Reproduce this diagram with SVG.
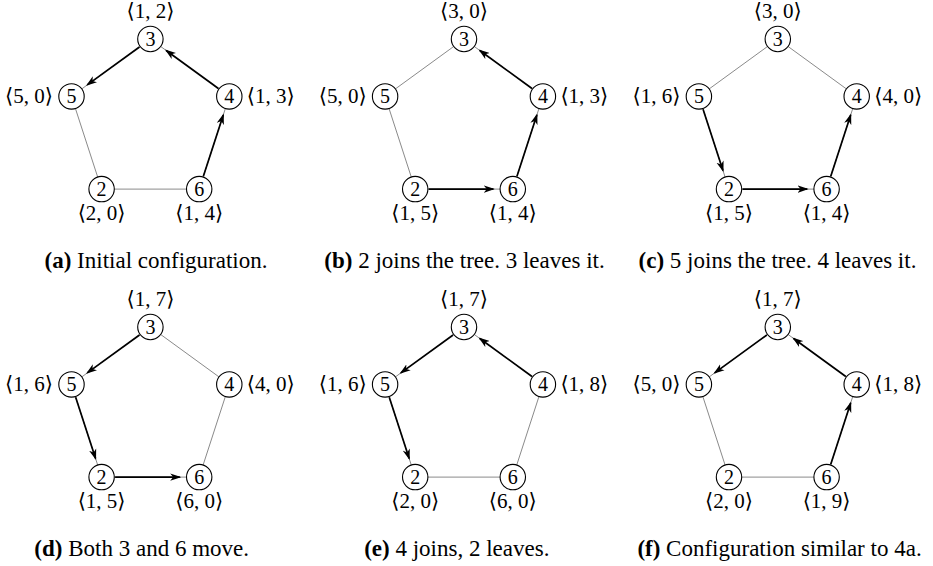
<svg xmlns="http://www.w3.org/2000/svg" width="933" height="566" viewBox="0 0 933 566" font-family="'Liberation Serif', 'Times New Roman', 'DejaVu Serif', serif">
<style>
text{fill:#000}
.lbl{font-size:21px}
.num{font-size:20px;text-anchor:middle}
.mid{text-anchor:middle}
.end{text-anchor:end}
.cap{font-size:23px;text-anchor:middle}
circle{fill:#fff;stroke:#000;stroke-width:1.1}
.g{stroke:#8a8a8a;stroke-width:1;fill:none}
.t{stroke:#000;stroke-width:1.7;fill:none;marker-end:url(#arr)}
</style>
<defs>
<marker id="arr" viewBox="0 0 11 8" refX="9.5" refY="4" markerWidth="11" markerHeight="8" markerUnits="userSpaceOnUse" orient="auto">
<path d="M0,0.3 L11,4 L0,7.7 L3,4 Z" fill="#000"/>
</marker>
<g id="gray35"><line class="g" x1="-10.27" y1="-75.53" x2="-68.63" y2="-33.07"/></g>
<g id="gray34"><line class="g" x1="10.27" y1="-75.53" x2="68.63" y2="-33.07"/></g>
<g id="gray52"><line class="g" x1="-74.98" y1="-13.53" x2="-52.72" y2="55.03"/></g>
<g id="gray46"><line class="g" x1="74.98" y1="-13.53" x2="52.72" y2="55.03"/></g>
<g id="gray26"><line class="g" x1="-36.1" y1="67.1" x2="36.1" y2="67.1"/></g>
</defs>

<!-- Panel a -->
<g id="panel-a" transform="translate(150.4,122)">
<g id="a-edges">
<use href="#gray35"/><use href="#gray34"/><use href="#gray52"/><use href="#gray46"/><use href="#gray26"/>
<line class="t" x1="-10.92" y1="-75.06" x2="-63.13" y2="-37.07"/>
<line class="t" x1="67.98" y1="-33.54" x2="15.77" y2="-71.53"/>
<line class="t" x1="52.96" y1="54.27" x2="72.88" y2="-7.07"/>
</g>
<g id="a-n3"><circle cx="0" cy="-83" r="12.7"/><text class="num" x="0" y="-76.3">3</text><text class="lbl mid" x="0" y="-104.5">⟨1, 2⟩</text></g>
<g id="a-n5"><circle cx="-78.9" cy="-25.6" r="12.7"/><text class="num" x="-78.9" y="-18.9">5</text><text class="lbl end" x="-97.4" y="-18.6">⟨5, 0⟩</text></g>
<g id="a-n4"><circle cx="78.9" cy="-25.6" r="12.7"/><text class="num" x="78.9" y="-18.9">4</text><text class="lbl" x="96.4" y="-18.6">⟨1, 3⟩</text></g>
<g id="a-n2"><circle cx="-48.8" cy="67.1" r="12.7"/><text class="num" x="-48.8" y="73.8">2</text><text class="lbl mid" x="-48.8" y="98.1">⟨2, 0⟩</text></g>
<g id="a-n6"><circle cx="48.8" cy="67.1" r="12.7"/><text class="num" x="48.8" y="73.8">6</text><text class="lbl mid" x="48.8" y="98.1">⟨1, 4⟩</text></g>
</g>

<!-- Panel b -->
<g id="panel-b" transform="translate(464,122)">
<g id="b-edges">
<use href="#gray35"/><use href="#gray34"/><use href="#gray52"/><use href="#gray46"/><use href="#gray26"/>
<line class="t" x1="67.98" y1="-33.54" x2="15.77" y2="-71.53"/>
<line class="t" x1="52.96" y1="54.27" x2="72.88" y2="-7.07"/>
<line class="t" x1="-35.3" y1="67.1" x2="29.3" y2="67.1"/>
</g>
<g id="b-n3"><circle cx="0" cy="-83" r="12.7"/><text class="num" x="0" y="-76.3">3</text><text class="lbl mid" x="0" y="-104.5">⟨3, 0⟩</text></g>
<g id="b-n5"><circle cx="-78.9" cy="-25.6" r="12.7"/><text class="num" x="-78.9" y="-18.9">5</text><text class="lbl end" x="-97.4" y="-18.6">⟨5, 0⟩</text></g>
<g id="b-n4"><circle cx="78.9" cy="-25.6" r="12.7"/><text class="num" x="78.9" y="-18.9">4</text><text class="lbl" x="96.4" y="-18.6">⟨1, 3⟩</text></g>
<g id="b-n2"><circle cx="-48.8" cy="67.1" r="12.7"/><text class="num" x="-48.8" y="73.8">2</text><text class="lbl mid" x="-48.8" y="98.1">⟨1, 5⟩</text></g>
<g id="b-n6"><circle cx="48.8" cy="67.1" r="12.7"/><text class="num" x="48.8" y="73.8">6</text><text class="lbl mid" x="48.8" y="98.1">⟨1, 4⟩</text></g>
</g>

<!-- Panel c -->
<g id="panel-c" transform="translate(777.8,122)">
<g id="c-edges">
<use href="#gray35"/><use href="#gray34"/><use href="#gray52"/><use href="#gray46"/><use href="#gray26"/>
<line class="t" x1="-74.74" y1="-12.77" x2="-54.82" y2="48.57"/>
<line class="t" x1="-35.3" y1="67.1" x2="29.3" y2="67.1"/>
<line class="t" x1="52.96" y1="54.27" x2="72.88" y2="-7.07"/>
</g>
<g id="c-n3"><circle cx="0" cy="-83" r="12.7"/><text class="num" x="0" y="-76.3">3</text><text class="lbl mid" x="0" y="-104.5">⟨3, 0⟩</text></g>
<g id="c-n5"><circle cx="-78.9" cy="-25.6" r="12.7"/><text class="num" x="-78.9" y="-18.9">5</text><text class="lbl end" x="-97.4" y="-18.6">⟨1, 6⟩</text></g>
<g id="c-n4"><circle cx="78.9" cy="-25.6" r="12.7"/><text class="num" x="78.9" y="-18.9">4</text><text class="lbl" x="96.4" y="-18.6">⟨4, 0⟩</text></g>
<g id="c-n2"><circle cx="-48.8" cy="67.1" r="12.7"/><text class="num" x="-48.8" y="73.8">2</text><text class="lbl mid" x="-48.8" y="98.1">⟨1, 5⟩</text></g>
<g id="c-n6"><circle cx="48.8" cy="67.1" r="12.7"/><text class="num" x="48.8" y="73.8">6</text><text class="lbl mid" x="48.8" y="98.1">⟨1, 4⟩</text></g>
</g>

<!-- Panel d -->
<g id="panel-d" transform="translate(150.4,410)">
<g id="d-edges">
<use href="#gray35"/><use href="#gray34"/><use href="#gray52"/><use href="#gray46"/><use href="#gray26"/>
<line class="t" x1="-10.92" y1="-75.06" x2="-63.13" y2="-37.07"/>
<line class="t" x1="-74.74" y1="-12.77" x2="-54.82" y2="48.57"/>
<line class="t" x1="-35.3" y1="67.1" x2="29.3" y2="67.1"/>
</g>
<g id="d-n3"><circle cx="0" cy="-83" r="12.7"/><text class="num" x="0" y="-76.3">3</text><text class="lbl mid" x="0" y="-104.5">⟨1, 7⟩</text></g>
<g id="d-n5"><circle cx="-78.9" cy="-25.6" r="12.7"/><text class="num" x="-78.9" y="-18.9">5</text><text class="lbl end" x="-97.4" y="-18.6">⟨1, 6⟩</text></g>
<g id="d-n4"><circle cx="78.9" cy="-25.6" r="12.7"/><text class="num" x="78.9" y="-18.9">4</text><text class="lbl" x="96.4" y="-18.6">⟨4, 0⟩</text></g>
<g id="d-n2"><circle cx="-48.8" cy="67.1" r="12.7"/><text class="num" x="-48.8" y="73.8">2</text><text class="lbl mid" x="-48.8" y="98.1">⟨1, 5⟩</text></g>
<g id="d-n6"><circle cx="48.8" cy="67.1" r="12.7"/><text class="num" x="48.8" y="73.8">6</text><text class="lbl mid" x="48.8" y="98.1">⟨6, 0⟩</text></g>
</g>

<!-- Panel e -->
<g id="panel-e" transform="translate(464,410)">
<g id="e-edges">
<use href="#gray35"/><use href="#gray34"/><use href="#gray52"/><use href="#gray46"/><use href="#gray26"/>
<line class="t" x1="-10.92" y1="-75.06" x2="-63.13" y2="-37.07"/>
<line class="t" x1="-74.74" y1="-12.77" x2="-54.82" y2="48.57"/>
<line class="t" x1="67.98" y1="-33.54" x2="15.77" y2="-71.53"/>
</g>
<g id="e-n3"><circle cx="0" cy="-83" r="12.7"/><text class="num" x="0" y="-76.3">3</text><text class="lbl mid" x="0" y="-104.5">⟨1, 7⟩</text></g>
<g id="e-n5"><circle cx="-78.9" cy="-25.6" r="12.7"/><text class="num" x="-78.9" y="-18.9">5</text><text class="lbl end" x="-97.4" y="-18.6">⟨1, 6⟩</text></g>
<g id="e-n4"><circle cx="78.9" cy="-25.6" r="12.7"/><text class="num" x="78.9" y="-18.9">4</text><text class="lbl" x="96.4" y="-18.6">⟨1, 8⟩</text></g>
<g id="e-n2"><circle cx="-48.8" cy="67.1" r="12.7"/><text class="num" x="-48.8" y="73.8">2</text><text class="lbl mid" x="-48.8" y="98.1">⟨2, 0⟩</text></g>
<g id="e-n6"><circle cx="48.8" cy="67.1" r="12.7"/><text class="num" x="48.8" y="73.8">6</text><text class="lbl mid" x="48.8" y="98.1">⟨6, 0⟩</text></g>
</g>

<!-- Panel f -->
<g id="panel-f" transform="translate(777.8,410)">
<g id="f-edges">
<use href="#gray35"/><use href="#gray34"/><use href="#gray52"/><use href="#gray46"/><use href="#gray26"/>
<line class="t" x1="-10.92" y1="-75.06" x2="-63.13" y2="-37.07"/>
<line class="t" x1="67.98" y1="-33.54" x2="15.77" y2="-71.53"/>
<line class="t" x1="52.96" y1="54.27" x2="72.88" y2="-7.07"/>
</g>
<g id="f-n3"><circle cx="0" cy="-83" r="12.7"/><text class="num" x="0" y="-76.3">3</text><text class="lbl mid" x="0" y="-104.5">⟨1, 7⟩</text></g>
<g id="f-n5"><circle cx="-78.9" cy="-25.6" r="12.7"/><text class="num" x="-78.9" y="-18.9">5</text><text class="lbl end" x="-97.4" y="-18.6">⟨5, 0⟩</text></g>
<g id="f-n4"><circle cx="78.9" cy="-25.6" r="12.7"/><text class="num" x="78.9" y="-18.9">4</text><text class="lbl" x="96.4" y="-18.6">⟨1, 8⟩</text></g>
<g id="f-n2"><circle cx="-48.8" cy="67.1" r="12.7"/><text class="num" x="-48.8" y="73.8">2</text><text class="lbl mid" x="-48.8" y="98.1">⟨2, 0⟩</text></g>
<g id="f-n6"><circle cx="48.8" cy="67.1" r="12.7"/><text class="num" x="48.8" y="73.8">6</text><text class="lbl mid" x="48.8" y="98.1">⟨1, 9⟩</text></g>
</g>

<!-- Captions -->
<g id="captions">
<text class="cap" x="156" y="268"><tspan font-weight="bold">(a)</tspan> Initial configuration.</text>
<text class="cap" x="464.5" y="268"><tspan font-weight="bold">(b)</tspan> 2 joins the tree. 3 leaves it.</text>
<text class="cap" x="777.5" y="268"><tspan font-weight="bold">(c)</tspan> 5 joins the tree. 4 leaves it.</text>
<text class="cap" x="141.7" y="556"><tspan font-weight="bold">(d)</tspan> Both 3 and 6 move.</text>
<text class="cap" x="456.8" y="556"><tspan font-weight="bold">(e)</tspan> 4 joins, 2 leaves.</text>
<text class="cap" x="779.5" y="556"><tspan font-weight="bold">(f)</tspan> Configuration similar to 4a.</text>
</g>
</svg>
